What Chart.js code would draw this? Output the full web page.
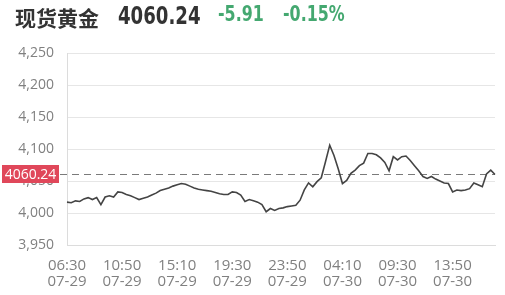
<!DOCTYPE html>
<html>
<head>
<meta charset="utf-8">
<script src="https://cdn.jsdelivr.net/npm/chart.js@4.4.1/dist/chart.umd.min.js"></script>
<style>
  body { margin: 0; background: #fff; }
  #wrap { position: relative; width: 505px; height: 295px; }
  #head { position: absolute; left: 15px; top: 2px; height: 30px; line-height: 30px; white-space: nowrap; }
  #head span { position: absolute; top: 0; transform-origin: left center; }
  .name { left: 0; font: bold 21px "Noto Sans CJK SC"; color: #333; }
  .price { left: 103px; font: bold 24px "DejaVu Sans Condensed"; color: #333; transform: scaleX(0.84); }
  .chg { font: bold 21px "DejaVu Sans Condensed"; color: #44a870; transform: scaleX(0.84); }
  canvas { position: absolute; left: 0; top: 0; }
</style>
</head>
<body>
<div id="wrap">
  <canvas id="myChart" width="505" height="295"></canvas>
  <div id="head">
    <span class="name">现货黄金</span>
    <span class="price">4060.24</span>
    <span class="chg" style="left:203px">-5.91</span>
    <span class="chg" style="left:268px">-0.15%</span>
  </div>
</div>
<script>
let lastPrice = 4060.24

// x tick labels, one every 13 points (20 min per point)
let tickLabels = ['06:30|07-29', '10:50|07-29', '15:10|07-29', '19:30|07-29', '23:50|07-29', '04:10|07-30', '09:30|07-30', '13:50|07-30']
let tickEvery = 13

let prices = [
  4017, 4016, 4019, 4018, 4022, 4024, 4021, 4024, 4013, 4025,
  4027, 4025, 4033, 4032, 4029, 4027, 4024, 4021, 4023, 4025,
  4028, 4031, 4035, 4037, 4039, 4042, 4044, 4046, 4045, 4042,
  4039, 4037, 4036, 4035, 4034, 4032, 4030, 4029, 4029, 4033,
  4032, 4028, 4018, 4021, 4019, 4017, 4013, 4002, 4007, 4004,
  4007, 4008, 4010, 4011, 4012, 4020, 4036, 4047, 4041, 4049,
  4055, 4080, 4106, 4090, 4069, 4046, 4051, 4062, 4067, 4074,
  4078, 4093, 4093, 4091, 4086, 4079, 4066, 4088, 4083, 4088,
  4089, 4082, 4074, 4066, 4057, 4054, 4057, 4053, 4050, 4047,
  4046, 4033, 4036, 4035, 4036, 4038, 4047, 4044, 4041, 4061,
  4067, 4060.24
]

let categories = prices.map(function(p, i) { return i })

let priceTag = {
  id: 'priceTag',
  beforeDatasetsDraw: function(chart) {
    let ctx = chart.ctx
    let y = Math.round(chart.scales.y.getPixelForValue(lastPrice)) + 0.5
    ctx.save()
    ctx.strokeStyle = '#7a7a7a'
    ctx.lineWidth = 1
    ctx.setLineDash([7, 5])
    ctx.beginPath()
    ctx.moveTo(60, y)
    ctx.lineTo(chart.chartArea.right, y)
    ctx.stroke()
    ctx.restore()
  },
  afterDraw: function(chart) {
    let ctx = chart.ctx
    let y = chart.scales.y.getPixelForValue(lastPrice)
    ctx.save()
    ctx.fillStyle = '#e0475a'
    ctx.fillRect(2, Math.round(y) - 9, 57, 18)
    ctx.fillStyle = '#fff'
    ctx.font = '14px "Open Sans"'
    ctx.textAlign = 'center'
    ctx.textBaseline = 'middle'
    ctx.fillText(lastPrice.toFixed(2), 30.5, y + 0.5)
    ctx.restore()
  }
}

let chart = new Chart(document.getElementById('myChart'), {
  type: 'line',
  data: {
    labels: categories,
    datasets: [{
      data: prices,
      borderColor: '#444',
      borderWidth: 1.6,
      pointRadius: 0,
      tension: 0,
      fill: false
    }]
  },
  options: {
    responsive: false,
    animation: false,
    layout: { padding: { top: 53, right: 10, left: 0, bottom: 0 } },
    plugins: { legend: { display: false }, tooltip: { enabled: false } },
    scales: {
      x: {
        type: 'category',
        offset: false,
        grid: { display: false, drawTicks: false },
        border: { color: '#dcdcdc' },
        afterFit: function(s) { s.height = 50 },
        ticks: {
          autoSkip: false,
          maxRotation: 0,
          padding: 12,
          color: '#808080',
          font: { family: 'Open Sans', size: 15, lineHeight: 1.1 },
          callback: function(value, index) {
            if (index % tickEvery !== 0) return null
            let t = tickLabels[index / tickEvery]
            return t ? t.split('|') : null
          }
        }
      },
      y: {
        min: 3950,
        max: 4250,
        grid: { color: '#e6e6e6', drawTicks: false },
        border: { color: '#dcdcdc' },
        afterFit: function(s) { s.width = 67 },
        ticks: {
          stepSize: 50,
          padding: 13,
          color: '#808080',
          font: { family: 'Open Sans', size: 14 },
          callback: function(v) { return v.toLocaleString('en-US') }
        }
      }
    }
  },
  plugins: [priceTag]
})
</script>
</body>
</html>
